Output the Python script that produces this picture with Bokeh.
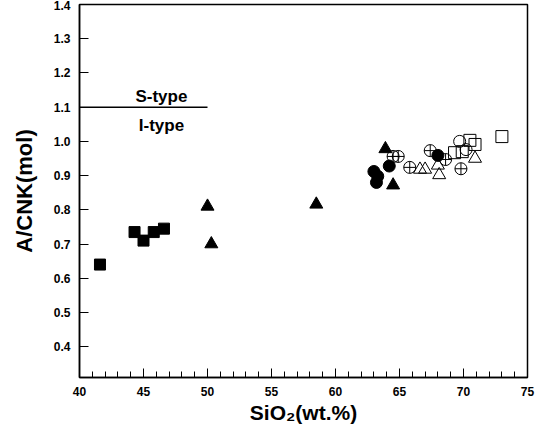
from bokeh.plotting import figure
from bokeh.models import Range1d, FixedTicker, Label, NumeralTickFormatter
from bokeh.embed import file_html
from bokeh.resources import INLINE

# ---- data ----
filled_square_x = [41.6, 44.3, 45.0, 45.8, 46.6]
filled_square_y = [0.64, 0.735, 0.71, 0.735, 0.745]

filled_tri_x = [50.0, 50.3, 58.5, 63.9, 64.5]
filled_tri_y = [0.81, 0.70, 0.816, 0.978, 0.872]

filled_circle_x = [63.0, 63.3, 63.2, 64.2, 68.0]
filled_circle_y = [0.912, 0.898, 0.880, 0.928, 0.959]

cross_circle_x = [64.5, 64.9, 65.8, 67.4, 68.6, 69.8]
cross_circle_y = [0.956, 0.956, 0.924, 0.973, 0.947, 0.920]

open_tri_x = [66.6, 67.0, 68.0, 68.1, 70.9]
open_tri_y = [0.918, 0.918, 0.930, 0.902, 0.950]

open_circle_x = [69.7, 70.2]
open_circle_y = [1.000, 0.976]

open_square_x = [69.3, 69.9, 70.5, 70.9, 73.0]
open_square_y = [0.967, 0.970, 1.003, 0.991, 1.014]

boundary_x = [40, 50]
boundary_y = [1.1, 1.1]
label_x = 46.4

x_ticks = [40, 45, 50, 55, 60, 65, 70, 75]
x_minor = list(range(40, 76))
y_ticks = [0.4, 0.5, 0.6, 0.7, 0.8, 0.9, 1.0, 1.1, 1.2, 1.3, 1.4]

FONT = "Liberation Sans"

p = figure(width=537, height=428, output_backend="svg", toolbar_location=None,
           x_range=Range1d(40, 75), y_range=Range1d(0.31, 1.4),
           min_border_left=79, min_border_right=10, min_border_top=4,
           min_border_bottom=51)
p.grid.visible = False
p.outline_line_color = "black"
p.outline_line_width = 1.5
p.background_fill_color = "white"
p.border_fill_color = "white"

# axes
p.xaxis.ticker = FixedTicker(ticks=x_ticks, minor_ticks=x_minor)
p.yaxis.ticker = FixedTicker(ticks=y_ticks)
p.yaxis.formatter = NumeralTickFormatter(format="0.0")
for ax in (p.xaxis[0], p.yaxis[0]):
    ax.major_tick_in = 9
    ax.major_tick_out = 0
    ax.minor_tick_in = 6
    ax.minor_tick_out = 0
    ax.axis_line_color = "black"
    ax.axis_line_width = 1.5
    ax.major_tick_line_color = "black"
    ax.minor_tick_line_color = "black"
    ax.major_label_text_font = FONT
    ax.major_label_text_font_size = "12px"
    ax.major_label_text_font_style = "bold"
    ax.major_label_text_color = "black"
    ax.axis_label_text_font = FONT
    ax.axis_label_text_font_style = "bold"
    ax.axis_label_text_color = "black"
p.yaxis.minor_tick_line_color = None
p.xaxis.axis_label = "SiO\u2082(wt.%)"
p.yaxis.axis_label = "A/CNK(mol)"
p.xaxis.axis_label_text_font_size = "21px"
p.yaxis.axis_label_text_font_size = "22px"
p.xaxis.major_label_standoff = 9
p.yaxis.major_label_standoff = 9
p.xaxis.axis_label_standoff = 2
p.yaxis.axis_label_standoff = 14

# S/I boundary
p.line(boundary_x, boundary_y, line_color="black", line_width=1.5)
p.add_layout(Label(x=label_x, y=boundary_y[0], text="S-type", text_align="center",
                   text_baseline="alphabetic", y_offset=11, text_font=FONT,
                   text_font_size="17px", text_font_style="bold",
                   text_color="black"))
p.add_layout(Label(x=label_x, y=boundary_y[0], text="I-type", text_align="center",
                   text_baseline="top", y_offset=-9, text_font=FONT,
                   text_font_size="17px", text_font_style="bold",
                   text_color="black"))

# markers
p.scatter(filled_square_x, filled_square_y, marker="square", size=11,
          fill_color="black", line_color="black")
p.scatter(filled_tri_x, filled_tri_y, marker="triangle", size=13,
          fill_color="black", line_color="black")
p.scatter(filled_circle_x, filled_circle_y, marker="circle", size=12,
          fill_color="black", line_color="black")
p.scatter(cross_circle_x, cross_circle_y, marker="circle_cross", size=12,
          fill_color=None, line_color="black", line_width=1)
p.scatter(open_tri_x, open_tri_y, marker="triangle", size=13,
          fill_color=None, line_color="black", line_width=1)
p.scatter(open_circle_x, open_circle_y, marker="circle", size=12,
          fill_color=None, line_color="black", line_width=1)
p.scatter(open_square_x, open_square_y, marker="square", size=12,
          fill_color=None, line_color="black", line_width=1)

open("out.html", "w").write(file_html(p, INLINE))
